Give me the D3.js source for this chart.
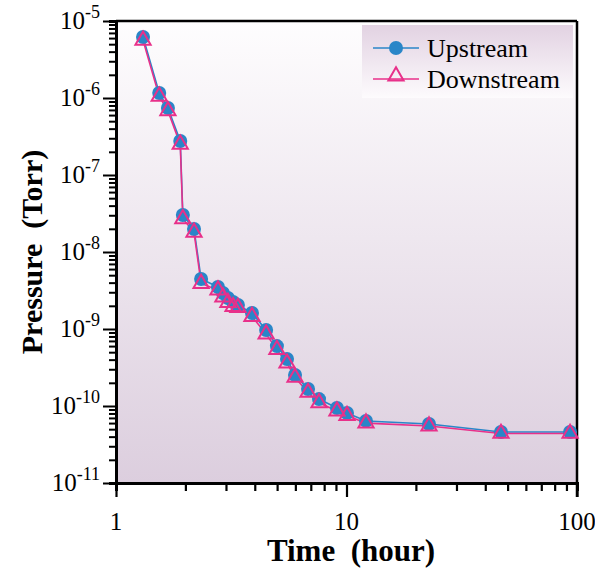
<!DOCTYPE html>
<html><head><meta charset="utf-8">
<script src="https://cdn.jsdelivr.net/npm/d3@7"></script>
<style>body{margin:0;background:#fff;} svg{display:block;}</style>
</head><body>
<svg id="chart" width="595" height="568"></svg>
<script>
const times = [1.31,1.54,1.68,1.90,1.95,2.18,2.34,2.77,2.91,3.06,3.22,3.38,3.89,4.48,4.99,5.52,5.98,6.81,7.60,9.09,10.05,12.15,22.8,46.8,93.3];
const upstream = [6.2e-6,1.16e-6,7.4e-7,2.77e-7,3.03e-8,1.99e-8,4.46e-9,3.51e-9,2.94e-9,2.53e-9,2.24e-9,2.05e-9,1.61e-9,9.7e-10,6.0e-10,4.07e-10,2.53e-10,1.66e-10,1.23e-10,9.4e-11,8.1e-11,6.4e-11,5.83e-11,4.6e-11,4.6e-11];
const downstream = [5.6e-6,1.05e-6,6.8e-7,2.5e-7,2.7e-8,1.8e-8,3.9e-9,3.2e-9,2.6e-9,2.2e-9,1.95e-9,1.9e-9,1.45e-9,8.6e-10,5.4e-10,3.6e-10,2.35e-10,1.5e-10,1.1e-10,8.6e-11,7.5e-11,6.0e-11,5.5e-11,4.4e-11,4.4e-11];
const xTickLabels = ["1","10","100"];
const yExponents = ["-5","-6","-7","-8","-9","-10","-11"];
const seriesNames = ["Upstream","Downstream"];

const svg = d3.select("#chart");
const L = 116, R = 577, T = 21, B = 483;
const x = d3.scaleLog().domain([1,100]).range([L,R]);
const y = d3.scaleLog().domain([1e-11,1e-5]).range([B,T]);
const font = "'Liberation Serif','Times New Roman',serif";
const blue = "#2a86c8", pink = "#e8308a";

const defs = svg.append("defs");
const g1 = defs.append("linearGradient").attr("id","bg").attr("x1",0).attr("y1",0).attr("x2",0).attr("y2",1);
g1.append("stop").attr("offset","0%").attr("stop-color","#fefdfe");
g1.append("stop").attr("offset","100%").attr("stop-color","#dccede");
const g2 = defs.append("linearGradient").attr("id","lg").attr("x1",0).attr("y1",0).attr("x2",0).attr("y2",1);
g2.append("stop").attr("offset","0%").attr("stop-color","#e2d2e2");
g2.append("stop").attr("offset","100%").attr("stop-color","#fdfbfd");

svg.append("rect").attr("x",L).attr("y",T).attr("width",R-L).attr("height",B-T).attr("fill","url(#bg)");

// legend box
svg.append("rect").attr("x",362).attr("y",25).attr("width",R-362-4).attr("height",73).attr("fill","url(#lg)");

function logTicks(lo, hi){ const a=[]; for(let e=lo;e<hi;e++){ for(let m=1;m<10;m++) a.push({v:m*Math.pow(10,e),major:m===1}); } a.push({v:Math.pow(10,hi),major:true}); return a; }
const xt = logTicks(0,2), yt = logTicks(-11,-5);
const isMajor = d => Math.abs(Math.log10(d)-Math.round(Math.log10(d)))<1e-9;

const xAxis = svg.append("g").attr("transform",`translate(0,${B})`)
  .call(d3.axisBottom(x).tickValues(xt.map(d=>d.v)).tickFormat("").tickSizeOuter(0).tickSize(8));
xAxis.selectAll(".tick line").attr("y2",d=>isMajor(d)?14:8).attr("stroke-width",2.2);
xAxis.select(".domain").attr("stroke-width",3);
const yAxis = svg.append("g").attr("transform",`translate(${L},0)`)
  .call(d3.axisLeft(y).tickValues(yt.map(d=>d.v)).tickFormat("").tickSizeOuter(0).tickSize(7));
yAxis.selectAll(".tick line").attr("x2",d=>isMajor(d)?-13:-7).attr("stroke-width",2);
yAxis.select(".domain").attr("stroke-width",3);
svg.append("line").attr("x1",L).attr("x2",R).attr("y1",T).attr("y2",T).attr("stroke","#000").attr("stroke-width",2.5);
svg.append("line").attr("x1",R).attr("x2",R).attr("y1",T).attr("y2",B+14).attr("stroke","#000").attr("stroke-width",2.5);

svg.append("g").selectAll("text").data(xTickLabels).join("text")
  .attr("x",d=>x(+d)).attr("y",530).attr("text-anchor","middle")
  .attr("font-family",font).attr("font-size",25).text(d=>d);
const yl = svg.append("g").selectAll("text").data(yExponents).join("text")
  .attr("x",L-16).attr("y",d=>y(Math.pow(10,+d))+8).attr("text-anchor","end")
  .attr("font-family",font).attr("font-size",25);
yl.append("tspan").text("10");
yl.append("tspan").attr("dy",-11).attr("font-size",18).text(d=>d);

const line = d3.line().x((d,i)=>x(times[i])).y(d=>y(d));
svg.append("path").datum(upstream).attr("d",line).attr("fill","none").attr("stroke",blue).attr("stroke-width",1.6);
svg.append("path").datum(downstream).attr("d",line).attr("fill","none").attr("stroke",pink).attr("stroke-width",1.6);

svg.append("g").selectAll("circle").data(upstream).join("circle")
  .attr("cx",(d,i)=>x(times[i])).attr("cy",d=>y(d)).attr("r",7).attr("fill",blue);
const tri = d3.symbol().type(d3.symbolTriangle).size(100);
svg.append("g").selectAll("path").data(downstream).join("path")
  .attr("d",tri).attr("transform",(d,i)=>`translate(${x(times[i])},${y(d)})`)
  .attr("fill","none").attr("stroke",pink).attr("stroke-width",2);

const lg = svg.append("g");
lg.append("line").attr("x1",373).attr("x2",419).attr("y1",48).attr("y2",48).attr("stroke",blue).attr("stroke-width",1.6);
lg.append("circle").attr("cx",396).attr("cy",48).attr("r",7).attr("fill",blue);
lg.append("line").attr("x1",373).attr("x2",419).attr("y1",79).attr("y2",79).attr("stroke",pink).attr("stroke-width",1.6);
lg.append("path").attr("d",tri).attr("transform","translate(396,76)").attr("fill","none").attr("stroke",pink).attr("stroke-width",2);
lg.selectAll("text").data(seriesNames).join("text")
  .attr("x",427).attr("y",(d,i)=>57+i*31).attr("font-family",font).attr("font-size",26).text(d=>d);

svg.append("text").attr("x",351).attr("y",561).attr("text-anchor","middle")
  .attr("font-family",font).attr("font-weight","bold").attr("font-size",31).attr("xml:space","preserve").text("Time  (hour)");
svg.append("text").attr("transform","translate(42,252) rotate(-90)").attr("text-anchor","middle")
  .attr("font-family",font).attr("font-weight","bold").attr("font-size",30).attr("xml:space","preserve").text("Pressure  (Torr)");
</script>
</body></html>
